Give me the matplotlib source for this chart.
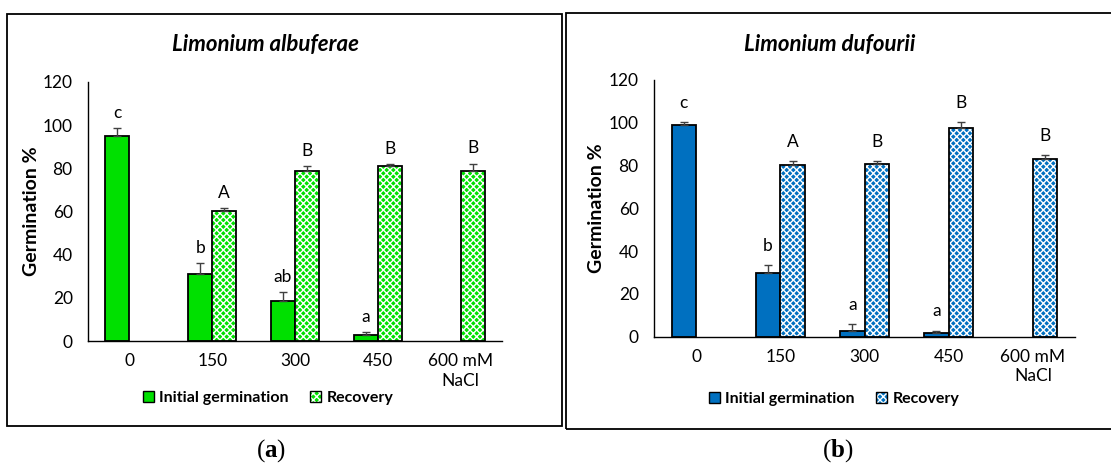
import numpy as np
import matplotlib
matplotlib.use('Agg')
import matplotlib.pyplot as plt
import matplotlib.patches as patches
from matplotlib.patches import Patch

plt.rcParams['font.family'] = ['Lato', 'DejaVu Sans']
plt.rcParams['mathtext.fontset'] = 'custom'
plt.rcParams['mathtext.rm'] = 'Liberation Serif'
plt.rcParams['mathtext.bf'] = 'Liberation Serif:bold'
plt.rcParams['hatch.linewidth'] = 1.0

# data
categories = ['0', '150', '300', '450', '600 mM\nNaCl']
init_pos = [0, 1, 2, 3]
rec_pos = [1, 2, 3, 4]

alb_init = [95.2, 31.0, 18.5, 2.9]
alb_init_err = [3.5, 5.0, 4.2, 1.3]
alb_init_letters = ['c', 'b', 'ab', 'a']
alb_rec = [60.2, 78.7, 80.9, 78.7]
alb_rec_err = [1.2, 2.2, 1.2, 3.5]
alb_rec_letters = ['A', 'B', 'B', 'B']

duf_init = [99.0, 29.9, 2.8, 1.6]
duf_init_err = [1.4, 3.6, 3.0, 1.2]
duf_init_letters = ['c', 'b', 'a', 'a']
duf_rec = [80.3, 80.9, 97.7, 82.9]
duf_rec_err = [1.8, 1.1, 2.7, 2.0]
duf_rec_letters = ['A', 'B', 'B', 'B']

W, H = 1111, 471
fig = plt.figure(figsize=(W / 100, H / 100), dpi=100)


def px_axes(x0, x1, ytop, ybot):
    return fig.add_axes([x0 / W, (H - ybot) / H, (x1 - x0) / W, (ybot - ytop) / H])


def draw_panel(ax, color, init, init_err, init_let, rec, rec_err, rec_let, letter_off):
    bw = 0.29
    ax.bar(init_pos, init, width=-bw, align='edge', color=color,
           edgecolor='black', linewidth=1.3, zorder=2)
    # checker-like fill: white hatch over colour, then black outline
    ax.bar(rec_pos, rec, width=bw, align='edge', color=color,
           edgecolor='white', hatch='xxxxx', linewidth=0, zorder=2)
    ax.bar(rec_pos, rec, width=bw, align='edge', color='none',
           edgecolor='black', linewidth=1.3, zorder=3)

    xi = np.array(init_pos) - bw / 2
    xr = np.array(rec_pos) + bw / 2
    ax.errorbar(xi, init, yerr=[np.zeros(len(init)), init_err], fmt='none',
                ecolor='#404040', elinewidth=1, capsize=2.6, capthick=1, zorder=4)
    ax.errorbar(xr, rec, yerr=[np.zeros(len(rec)), rec_err], fmt='none',
                ecolor='#404040', elinewidth=1, capsize=2.6, capthick=1, zorder=4)

    for x, v, e, t in zip(xi, init, init_err, init_let):
        ax.text(x, v + e + letter_off, t, ha='center', va='center', fontsize=12.5)
    for x, v, e, t in zip(xr, rec, rec_err, rec_let):
        ax.text(x, v + e + letter_off, t, ha='center', va='center', fontsize=12.5)

    ax.set_xlim(-0.5, 4.5)
    ax.set_ylim(0, 120)
    ax.set_yticks(np.arange(0, 121, 20))
    ax.set_xticks(range(len(categories)))
    ax.set_xticklabels(categories, linespacing=1.25)
    ax.tick_params(axis='both', length=0, labelsize=12.5)
    ax.tick_params(axis='y', pad=11)
    ax.tick_params(axis='x', pad=9)
    for s in ['top', 'right']:
        ax.spines[s].set_visible(False)
    for s in ['left', 'bottom']:
        ax.spines[s].set_linewidth(1.0)
        ax.spines[s].set_color('black')
    ax.set_ylabel('Germination %', fontsize=14, fontweight='bold')
    ax.yaxis.set_label_coords(-0.117, 0.5)

    h_init = Patch(facecolor=color, edgecolor='black', linewidth=1)
    h_rec = (Patch(facecolor=color, edgecolor='white', hatch='xxxxx', linewidth=0),
             Patch(facecolor='none', edgecolor='black', linewidth=1))
    return h_init, h_rec


leg_kw = dict(ncol=2, frameon=False, loc='center',
              prop={'weight': 'bold', 'size': 11.5}, handlelength=0.7, handleheight=0.7,
              handletextpad=0.35, columnspacing=1.3)

# left panel
ax1 = px_axes(88, 502, 82, 341)
h1, h2 = draw_panel(ax1, '#00E000', alb_init, alb_init_err, alb_init_letters,
                    alb_rec, alb_rec_err, alb_rec_letters, 7)
fig.legend([h1, h2], ['Initial germination', 'Recovery'],
           bbox_to_anchor=(268 / W, (H - 398) / H), **leg_kw)

# right panel
ax2 = px_axes(654, 1075, 80, 336.7)
h1, h2 = draw_panel(ax2, '#0070C0', duf_init, duf_init_err, duf_init_letters,
                    duf_rec, duf_rec_err, duf_rec_letters, 9)
fig.legend([h1, h2], ['Initial germination', 'Recovery'],
           bbox_to_anchor=(834 / W, (H - 399) / H), **leg_kw)

# titles
fig.text(265 / W, (H - 45) / H, 'Limonium albuferae', ha='center', va='center',
         fontsize=16, fontweight='bold', fontstyle='italic')
fig.text(830 / W, (H - 45) / H, 'Limonium dufourii', ha='center', va='center',
         fontsize=16, fontweight='bold', fontstyle='italic')

# panel frames
fig.patches.append(patches.Rectangle((7 / W, (H - 426) / H), 555 / W, 412 / H,
                                     transform=fig.transFigure, fill=False,
                                     edgecolor='black', linewidth=1.3))
fig.patches.append(patches.Rectangle((566 / W, (H - 429) / H), 560 / W, 416 / H,
                                     transform=fig.transFigure, fill=False,
                                     edgecolor='black', linewidth=1.3))

# sub-figure labels
fig.text(271 / W, (H - 451) / H, r'$\mathrm{(}\mathbf{a}\mathrm{)}$', ha='center',
         va='center', fontsize=18)
fig.text(838 / W, (H - 451) / H, r'$\mathrm{(}\mathbf{b}\mathrm{)}$', ha='center',
         va='center', fontsize=18)

fig.savefig('out.png', dpi=100)
plt.close(fig)
